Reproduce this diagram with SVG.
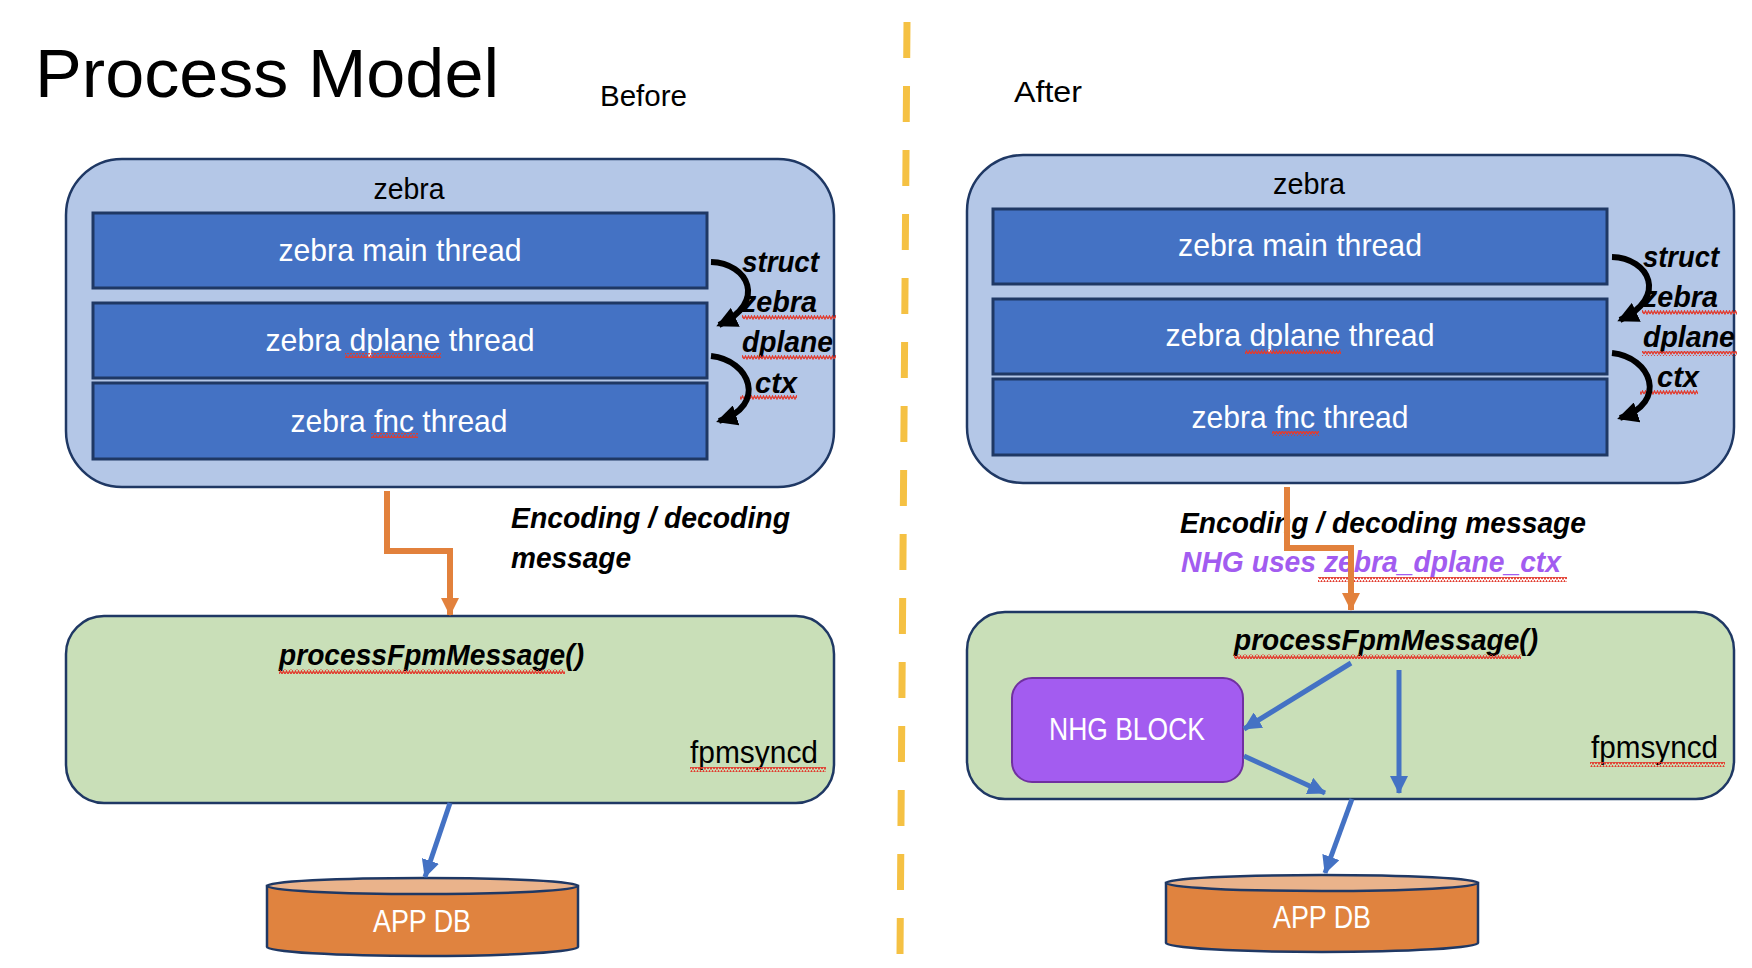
<svg xmlns="http://www.w3.org/2000/svg" width="1752" height="968" viewBox="0 0 1752 968">
<style>
.t{font-family:"Liberation Sans",Arial,sans-serif;}
.bi{font-family:"Liberation Sans",Arial,sans-serif;font-weight:bold;font-style:italic;font-size:30px;fill:#000;}
.outer{fill:#B4C7E7;stroke:#1F3864;stroke-width:2.5;}
.thr{fill:#4472C4;stroke:#1F3864;stroke-width:3;}
.thrt{font-family:"Liberation Sans",Arial,sans-serif;font-size:32px;fill:#fff;text-anchor:middle;}
.green{fill:#C9DFB8;stroke:#1F3864;stroke-width:2.5;}
.dbbody{fill:#E0833F;stroke:#1F3864;stroke-width:2.5;}
.dbtop{fill:#EAB38B;stroke:#1F3864;stroke-width:2.5;}
.dbt{font-family:"Liberation Sans",Arial,sans-serif;font-size:31px;fill:#fff;text-anchor:middle;}
.sq{fill:url(#squig);}
.blue{fill:none;stroke:#4472C4;stroke-width:5;marker-end:url(#ab);}
.orange{fill:none;stroke:#E2813C;stroke-width:6;marker-end:url(#ao);}
.black{fill:none;stroke:#000;stroke-width:6;marker-end:url(#ak);}
</style>
<defs>
<pattern id="squig" patternUnits="userSpaceOnUse" width="6" height="5">
<path d="M0,4 L1.5,1 L3,4 L4.5,1 L6,4" fill="none" stroke="#E23B2E" stroke-width="1.3"/>
</pattern>
<marker id="ab" markerUnits="userSpaceOnUse" markerWidth="18" markerHeight="18" refX="17" refY="9" orient="auto">
<path d="M0,0 L18,9 L0,18 z" fill="#4472C4"/>
</marker>
<marker id="ao" markerUnits="userSpaceOnUse" markerWidth="18" markerHeight="18" refX="17" refY="9" orient="auto">
<path d="M0,0 L18,9 L0,18 z" fill="#E2813C"/>
</marker>
<marker id="ak" markerUnits="userSpaceOnUse" markerWidth="21" markerHeight="21" refX="18" refY="10.5" orient="auto">
<path d="M0,0 L21,10.5 L0,21 z" fill="#000"/>
</marker>
</defs>
<rect width="1752" height="968" fill="#fff"/>

<g id="title">
<text class="t" x="35" y="97" font-size="69" textLength="464" lengthAdjust="spacingAndGlyphs">Process Model</text>
</g>
<g id="label-before"><text class="t" x="600" y="106" font-size="30" textLength="87" lengthAdjust="spacingAndGlyphs">Before</text></g>
<g id="label-after"><text class="t" x="1014" y="102" font-size="30" textLength="68" lengthAdjust="spacingAndGlyphs">After</text></g>

<g id="divider">
<line x1="907" y1="22" x2="900" y2="955" stroke="#F5C143" stroke-width="7" stroke-dasharray="36 28"/>
</g>

<!-- LEFT: Before -->
<g id="zebra-before">
<rect class="outer" x="66" y="159" width="768" height="328" rx="56"/>
<text class="t" x="409" y="199" font-size="30" text-anchor="middle" textLength="71" lengthAdjust="spacingAndGlyphs">zebra</text>
</g>
<g id="main-thread-before">
<rect class="thr" x="93" y="213" width="614" height="75"/>
<text class="thrt" x="400" y="261" textLength="243" lengthAdjust="spacingAndGlyphs">zebra main thread</text>
</g>
<g id="dplane-thread-before">
<rect class="thr" x="93" y="303" width="614" height="75"/>
<text class="thrt" x="400" y="351" textLength="269" lengthAdjust="spacingAndGlyphs">zebra dplane thread</text>
<rect class="sq" x="345" y="353" width="96" height="5"/>
</g>
<g id="fnc-thread-before">
<rect class="thr" x="93" y="383" width="614" height="76"/>
<text class="thrt" x="399" y="432" textLength="217" lengthAdjust="spacingAndGlyphs">zebra fnc thread</text>
<rect class="sq" x="371" y="433" width="47" height="5"/>
</g>
<g id="ctx-label-before">
<text class="bi" x="742" y="272" textLength="77" lengthAdjust="spacingAndGlyphs">struct</text>
<text class="bi" x="742" y="312" textLength="75" lengthAdjust="spacingAndGlyphs">zebra</text>
<text class="bi" x="742" y="352" textLength="91" lengthAdjust="spacingAndGlyphs">dplane</text>
<text class="bi" x="755" y="393" textLength="42" lengthAdjust="spacingAndGlyphs">ctx</text>
<rect class="sq" x="742" y="315" width="94" height="5"/>
<rect class="sq" x="742" y="355" width="94" height="5"/>
<rect class="sq" x="740" y="395" width="57" height="5"/>
</g>
<g id="encoding-label-before">
<text class="bi" x="511" y="528" textLength="279" lengthAdjust="spacingAndGlyphs">Encoding / decoding</text>
<text class="bi" x="511" y="568" textLength="120" lengthAdjust="spacingAndGlyphs">message</text>
</g>
<g id="fpmsyncd-before">
<rect class="green" x="66" y="616" width="768" height="187" rx="38"/>
<text class="bi" x="279" y="665" textLength="305" lengthAdjust="spacingAndGlyphs">processFpmMessage()</text>
<rect class="sq" x="279" y="669" width="286" height="5"/>
<text class="t" x="690" y="763" font-size="31" textLength="128" lengthAdjust="spacingAndGlyphs">fpmsyncd</text>
<rect class="sq" x="690" y="767" width="136" height="5"/>
</g>
<g id="appdb-before">
<path class="dbbody" d="M267,886 L267,947 A155.5,9 0 0 0 578,947 L578,886 Z"/>
<ellipse class="dbtop" cx="422.5" cy="886" rx="155.5" ry="8"/>
<text class="dbt" x="422" y="932" textLength="98" lengthAdjust="spacingAndGlyphs">APP DB</text>
</g>

<!-- RIGHT: After -->
<g id="zebra-after">
<rect class="outer" x="967" y="155" width="767" height="328" rx="56"/>
<text class="t" x="1309" y="194" font-size="30" text-anchor="middle" textLength="72" lengthAdjust="spacingAndGlyphs">zebra</text>
</g>
<g id="main-thread-after">
<rect class="thr" x="993" y="209" width="614" height="75"/>
<text class="thrt" x="1300" y="256" textLength="244" lengthAdjust="spacingAndGlyphs">zebra main thread</text>
</g>
<g id="dplane-thread-after">
<rect class="thr" x="993" y="299" width="614" height="75"/>
<text class="thrt" x="1300" y="346" textLength="269" lengthAdjust="spacingAndGlyphs">zebra dplane thread</text>
<rect class="sq" x="1245" y="349" width="96" height="5"/>
</g>
<g id="fnc-thread-after">
<rect class="thr" x="993" y="379" width="614" height="76"/>
<text class="thrt" x="1300" y="428" textLength="217" lengthAdjust="spacingAndGlyphs">zebra fnc thread</text>
<rect class="sq" x="1272" y="431" width="47" height="5"/>
</g>
<g id="ctx-label-after">
<text class="bi" x="1643" y="267" textLength="76" lengthAdjust="spacingAndGlyphs">struct</text>
<text class="bi" x="1643" y="307" textLength="75" lengthAdjust="spacingAndGlyphs">zebra</text>
<text class="bi" x="1643" y="347" textLength="92" lengthAdjust="spacingAndGlyphs">dplane</text>
<text class="bi" x="1657" y="387" textLength="42" lengthAdjust="spacingAndGlyphs">ctx</text>
<rect class="sq" x="1642" y="310" width="95" height="5"/>
<rect class="sq" x="1642" y="351" width="95" height="5"/>
<rect class="sq" x="1640" y="390" width="58" height="5"/>
</g>
<g id="encoding-label-after">
<text class="bi" x="1180" y="533" textLength="406" lengthAdjust="spacingAndGlyphs">Encoding / decoding message</text>
<text class="bi" x="1181" y="572" style="fill:#A25CF0" textLength="380" lengthAdjust="spacingAndGlyphs">NHG uses zebra_dplane_ctx</text>
<rect class="sq" x="1318" y="577" width="249" height="5"/>
</g>
<g id="fpmsyncd-after">
<rect class="green" x="967" y="612" width="767" height="187" rx="38"/>
<text class="bi" x="1234" y="650" textLength="304" lengthAdjust="spacingAndGlyphs">processFpmMessage()</text>
<rect class="sq" x="1234" y="654" width="287" height="5"/>
<text class="t" x="1591" y="758" font-size="31" textLength="127" lengthAdjust="spacingAndGlyphs">fpmsyncd</text>
<rect class="sq" x="1590" y="762" width="135" height="5"/>
</g>
<g id="nhg-block">
<rect x="1012" y="678" width="231" height="104" rx="20" fill="#A35CF0" stroke="#7030A0" stroke-width="2"/>
<text class="t" x="1127" y="740" font-size="31" fill="#fff" text-anchor="middle" textLength="156" lengthAdjust="spacingAndGlyphs">NHG BLOCK</text>
</g>
<g id="appdb-after">
<path class="dbbody" d="M1166,883 L1166,943 A156,9 0 0 0 1478,943 L1478,883 Z"/>
<ellipse class="dbtop" cx="1322" cy="883" rx="156" ry="8"/>
<text class="dbt" x="1322" y="928" textLength="98" lengthAdjust="spacingAndGlyphs">APP DB</text>
</g>

<g id="connectors">
<path class="black" d="M711,262 C748,263 768,302 719,325"/>
<path class="black" d="M711,356 C750,360 768,405 719,421"/>
<path class="black" d="M1612,257 C1649,258 1669,297 1620,320"/>
<path class="black" d="M1612,353 C1651,357 1669,402 1620,418"/>
<path class="orange" d="M387,491 L387,551 L450,551 L450,615"/>
<path class="blue" d="M450,803 L425,877"/>
<path class="orange" d="M1287,487 L1287,548 L1351,548 L1351,610"/>
<path class="blue" d="M1351,663 L1244,729"/>
<path class="blue" d="M1244,756 L1325,793"/>
<path class="blue" d="M1399,670 L1399,793"/>
<path class="blue" d="M1352,799 L1325,873"/>
</g>
</svg>
